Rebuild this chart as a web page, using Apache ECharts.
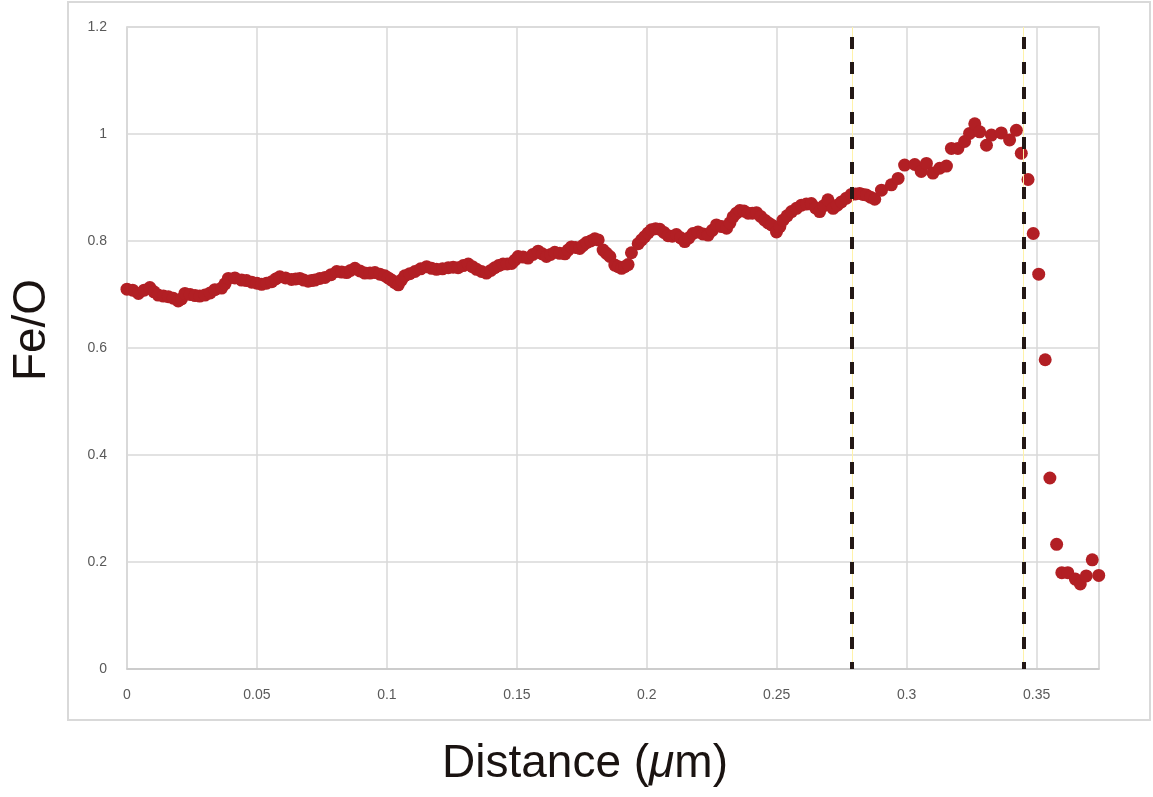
<!DOCTYPE html>
<html>
<head>
<meta charset="utf-8">
<script src="https://cdn.jsdelivr.net/npm/echarts@6/dist/echarts.min.js"></script>
<style>
html,body{margin:0;padding:0;background:#fff;}
#chart{width:1153px;height:797px;}
</style>
</head>
<body>
<div id="chart"></div>
<script>
// Distance (µm)
const distance = [
  0.000, 0.0022, 0.0044, 0.0066, 0.0088, 0.0104, 0.012, 0.014, 0.0159, 0.0178,
  0.0197, 0.0210, 0.0223, 0.0243, 0.0262, 0.028, 0.030, 0.032, 0.0338, 0.0364,
  0.0377, 0.039, 0.0415, 0.0441, 0.046, 0.048, 0.050, 0.0518, 0.0537, 0.0557,
  0.0572, 0.0588, 0.061, 0.0633, 0.0649, 0.0665, 0.068, 0.0697, 0.071, 0.0723,
  0.0742, 0.0762, 0.0785, 0.0807, 0.0826, 0.0845, 0.086, 0.0877, 0.0896, 0.0915,
  0.0935, 0.0954, 0.0973, 0.0992, 0.1005, 0.1018, 0.1031, 0.1044, 0.1056, 0.1069,
  0.1088, 0.1108, 0.113, 0.1153, 0.1172, 0.1191, 0.1214, 0.1236, 0.1255, 0.1274,
  0.1294, 0.1313, 0.1329, 0.1345, 0.1364, 0.1383, 0.140, 0.1415, 0.143, 0.1447,
  0.1463, 0.148, 0.1492, 0.1505, 0.1524, 0.1543, 0.1562, 0.1582, 0.1598, 0.1614,
  0.163, 0.1646, 0.1665, 0.1685, 0.1697, 0.171, 0.1726, 0.1742, 0.1755, 0.1768,
  0.1784, 0.180, 0.1813, 0.1832, 0.1845, 0.1858, 0.1877, 0.1890, 0.1903, 0.1915,
  0.1928, 0.1941, 0.1967, 0.1980, 0.1992, 0.2005, 0.2018, 0.2034, 0.205, 0.2066,
  0.2082, 0.2098, 0.2114, 0.213, 0.2146, 0.2162, 0.2178, 0.2197, 0.2217, 0.2236,
  0.2252, 0.2268, 0.2288, 0.2307, 0.232, 0.2332, 0.2345, 0.2358, 0.2374, 0.239,
  0.2406, 0.2422, 0.2438, 0.2454, 0.2467, 0.248, 0.2499, 0.2512, 0.2524, 0.254,
  0.2557, 0.2576, 0.2595, 0.2614, 0.2633, 0.2649, 0.2665, 0.2681, 0.2697, 0.2717,
  0.2733, 0.2749, 0.2768, 0.2787, 0.2803, 0.2819, 0.2832, 0.2845, 0.2861, 0.2877,
  0.2903, 0.2941, 0.2967, 0.2992, 0.3031, 0.3056, 0.3076, 0.3101, 0.3127, 0.3153,
  0.3172, 0.3197, 0.3223, 0.3242, 0.3262, 0.3281, 0.3307, 0.3326, 0.3364, 0.3396,
  0.3422, 0.3441, 0.3467, 0.3487, 0.3508, 0.3533, 0.3551, 0.3577, 0.3597, 0.3620,
  0.3649, 0.3668, 0.3691, 0.3714, 0.3739
];
// Fe/O ratio
const feO = [
  0.710, 0.708, 0.702, 0.708, 0.713, 0.705, 0.699, 0.697, 0.696, 0.693,
  0.688, 0.692, 0.702, 0.700, 0.698, 0.697, 0.699, 0.703, 0.709, 0.712,
  0.720, 0.730, 0.731, 0.727, 0.726, 0.723, 0.721, 0.719, 0.721, 0.724,
  0.729, 0.733, 0.731, 0.728, 0.729, 0.730, 0.727, 0.725, 0.726, 0.727,
  0.730, 0.732, 0.737, 0.743, 0.742, 0.741, 0.745, 0.749, 0.744, 0.740,
  0.740, 0.741, 0.738, 0.735, 0.731, 0.727, 0.722, 0.718, 0.727, 0.735,
  0.739, 0.743, 0.748, 0.752, 0.749, 0.747, 0.748, 0.750, 0.751, 0.750,
  0.754, 0.757, 0.752, 0.747, 0.743, 0.740, 0.745, 0.750, 0.754, 0.757,
  0.757, 0.758, 0.764, 0.771, 0.770, 0.768, 0.775, 0.781, 0.776, 0.771,
  0.775, 0.779, 0.777, 0.776, 0.783, 0.789, 0.788, 0.786, 0.792, 0.797,
  0.800, 0.804, 0.802, 0.783, 0.777, 0.771, 0.755, 0.752, 0.749, 0.752,
  0.756, 0.778, 0.795, 0.802, 0.808, 0.815, 0.821, 0.823, 0.822, 0.816,
  0.810, 0.809, 0.812, 0.806, 0.799, 0.806, 0.814, 0.817, 0.813, 0.811,
  0.820, 0.830, 0.827, 0.824, 0.834, 0.845, 0.852, 0.857, 0.856, 0.852,
  0.852, 0.853, 0.846, 0.839, 0.834, 0.830, 0.817, 0.827, 0.839, 0.847,
  0.855, 0.861, 0.867, 0.869, 0.870, 0.862, 0.855, 0.866, 0.877, 0.861,
  0.867, 0.873, 0.880, 0.887, 0.888, 0.889, 0.887, 0.886, 0.882, 0.878,
  0.895, 0.905, 0.917, 0.942, 0.943, 0.930, 0.945, 0.927, 0.936, 0.940,
  0.973, 0.973, 0.986, 1.001, 1.019, 1.004, 0.979, 0.998, 1.002, 0.989,
  1.007, 0.964, 0.915, 0.814, 0.738, 0.578, 0.357, 0.233, 0.180, 0.180,
  0.168, 0.159, 0.174, 0.204, 0.175
];
// Vertical dashed boundary positions (µm)
const boundaries = [0.279, 0.345];
// Tick labels
const xTicks = ['0', '0.05', '0.1', '0.15', '0.2', '0.25', '0.3', '0.35'];
const yTicks = ['0', '0.2', '0.4', '0.6', '0.8', '1', '1.2'];

const points = distance.map((d, i) => [d, feO[i]]);

const markData = [];
boundaries.forEach(b => markData.push({xAxis: b, lineStyle: {color: '#fff2a8', width: 1, type: 'solid'}}));
boundaries.forEach(b => markData.push({xAxis: b, lineStyle: {color: '#231815', width: 4, type: [12, 13], dashOffset: 5}}));

const chart = echarts.init(document.getElementById('chart'), null, {renderer: 'canvas'});
const FONT = 'Liberation Sans, Arial, sans-serif';
const labelStyle = {color: '#595959', fontSize: 14, fontFamily: FONT};

chart.setOption({
  animation: false,
  backgroundColor: '#ffffff',
  grid: {left: 127, top: 27, right: 54, bottom: 128, outerBoundsMode: 'none', containLabel: false,
    show: true, borderColor: '#d9d9d9', borderWidth: 1.5},
  xAxis: {
    type: 'value', min: 0, max: 0.374, interval: 0.05,
    axisLine: {show: true, lineStyle: {color: '#c8c8c8', width: 1.5}},
    axisTick: {show: false},
    splitLine: {show: true, lineStyle: {color: '#d9d9d9', width: 1.5}},
    axisLabel: Object.assign({margin: 19, showMaxLabel: false,
      formatter: v => { const k = Math.round(v / 0.05); return k < xTicks.length ? xTicks[k] : ''; }}, labelStyle),
    name: 'Distance ({i|μ}m)',
    nameLocation: 'middle', nameGap: 72,
    nameTextStyle: {color: '#1a1311', fontSize: 46, fontFamily: FONT, padding: [0, 56, 0, 0],
      rich: {i: {fontStyle: 'italic', fontSize: 46, color: '#1a1311', fontFamily: FONT}}}
  },
  yAxis: {
    type: 'value', min: 0, max: 1.2, interval: 0.2,
    axisLine: {show: true, lineStyle: {color: '#d9d9d9', width: 1.5}},
    axisTick: {show: false},
    splitLine: {show: true, lineStyle: {color: '#d9d9d9', width: 1.5}},
    axisLabel: Object.assign({margin: 20, formatter: v => yTicks[Math.round(v / 0.2)]}, labelStyle)
  },
  graphic: [
    {type: 'rect', z: -10, shape: {x: 68, y: 2, width: 1082, height: 718}, style: {fill: 'none', stroke: '#d9d9d9', lineWidth: 2}},
    {type: 'text', x: 32, y: 330, rotation: Math.PI / 2,
      style: {text: 'Fe/O', fill: '#1a1311', fontSize: 46, fontFamily: FONT, align: 'center', verticalAlign: 'middle'}}
  ],
  series: [{
    type: 'scatter',
    data: points,
    symbol: 'circle',
    symbolSize: 13,
    itemStyle: {color: '#b21f24', opacity: 1},
    z: 3,
    markLine: {
      silent: true, symbol: ['none', 'none'], animation: false, precision: 4,
      label: {show: false},
      data: markData
    }
  }]
});
</script>
</body>
</html>
